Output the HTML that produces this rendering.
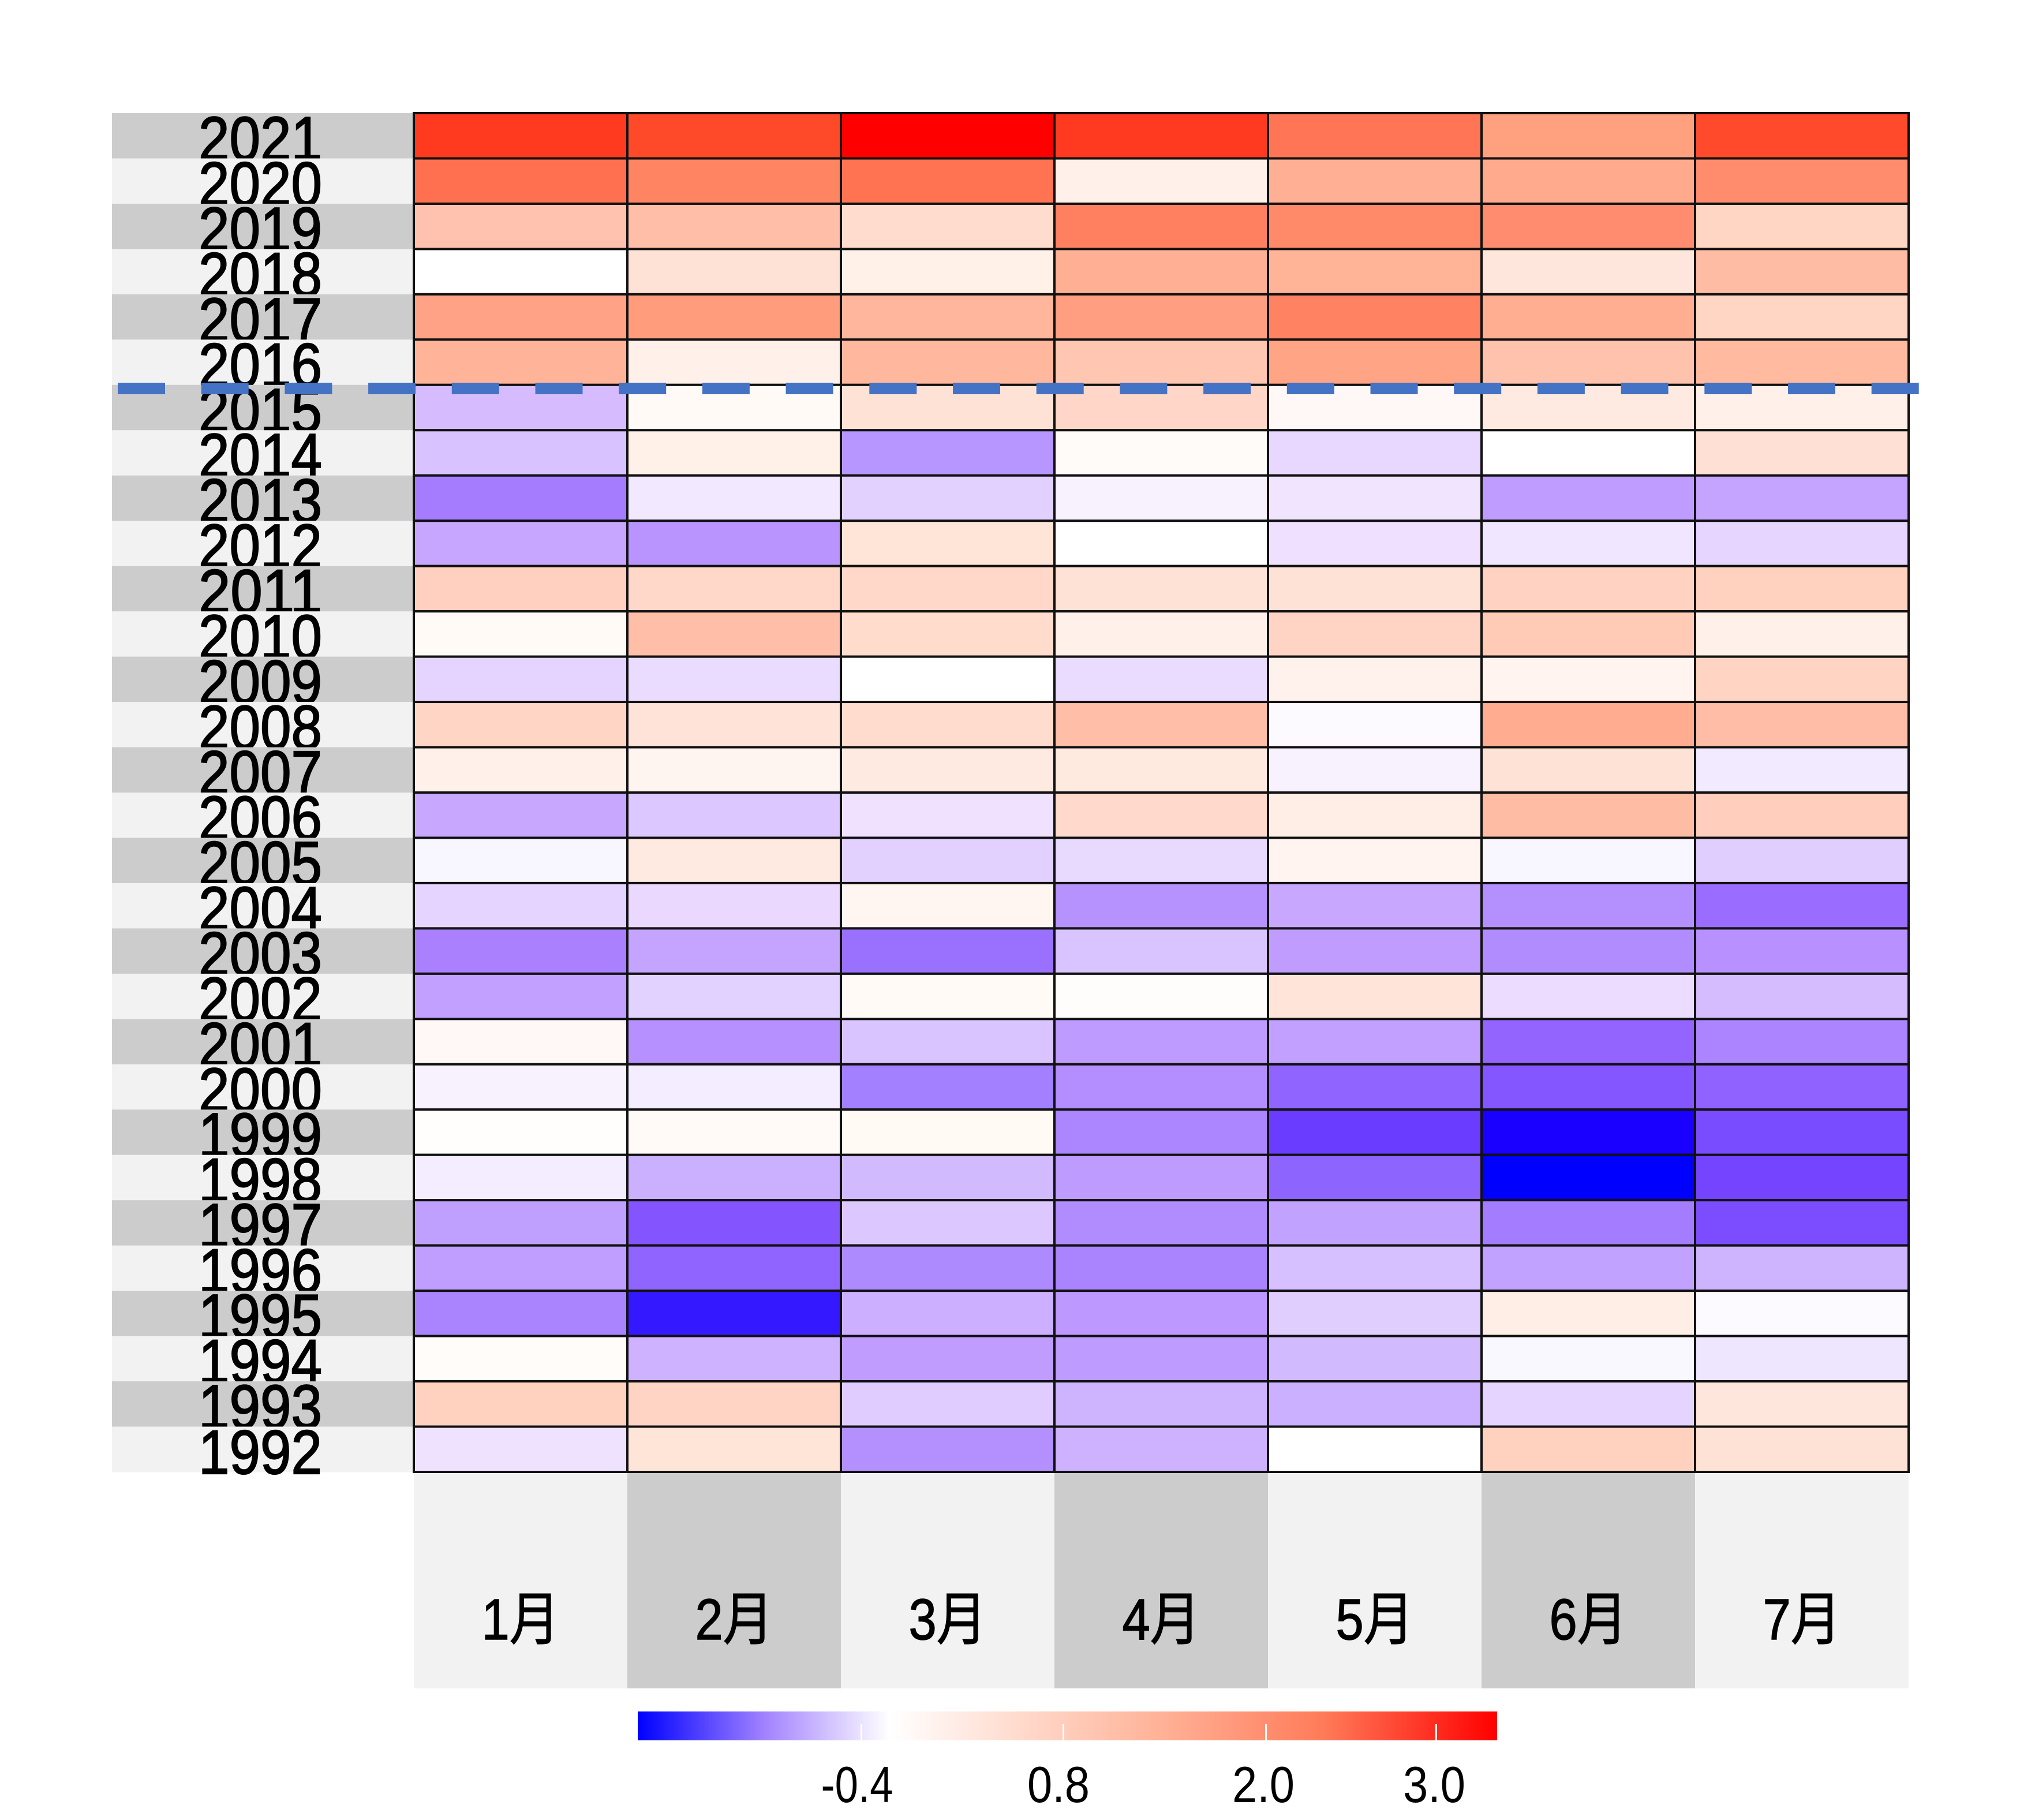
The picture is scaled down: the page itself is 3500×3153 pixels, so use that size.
<!DOCTYPE html>
<html><head><meta charset="utf-8"><style>html,body{margin:0;padding:0;background:#fff}svg{display:block}</style></head>
<body>
<svg id="s" width="3500" height="3153" xmlns="http://www.w3.org/2000/svg" font-family="Liberation Sans, Noto Sans CJK SC, sans-serif">
<defs><linearGradient id="g" x1="0" x2="1" y1="0" y2="0">
<stop offset="0" stop-color="#0000ff"/><stop offset="0.15" stop-color="#a484ff"/><stop offset="0.293" stop-color="#ffffff"/><stop offset="0.6" stop-color="#ffb49a"/><stop offset="0.8" stop-color="#ff7a58"/><stop offset="1" stop-color="#ff0000"/></linearGradient></defs>
<rect width="3500" height="3153" fill="#fff"/>
<g id="cells"></g>
</svg>
<script>
const C=[
"ff3a1e ff4a2a ff0000 ff3a20 ff7556 ffa07e ff4a2c",
"ff7050 ff8562 ff7352 fff0ea ffb094 ffaa8c ff8c6c",
"ffc2ae ffbea8 ffdcce ff8060 ff8a6a ff8c6e ffd6c4",
"ffffff ffe2d6 fff0e8 ffb094 ffb498 ffe6dc ffbca4",
"ffa286 ff9c7c ffb69c ff9e80 ff8262 ffae92 ffd6c4",
"ffb49a fff0ea ffb89e ffc6b2 ffa484 ffc2ac ffbaa0",
"d6bcff fffaf6 ffe2d6 ffd6c8 fff8f6 ffeae2 fff0ea",
"d8c2ff fff0e8 b896ff fffbf8 e8d8ff ffffff ffe0d4",
"a67cff f2e8ff e2d0ff f8f2ff f0e4ff bf9cff c4a4ff",
"c6a6ff b994ff ffe4d8 ffffff f0e0ff f0e6ff e6d6ff",
"ffd0c0 ffd8ca ffd8ca ffe2d6 ffe2d6 ffd2c2 ffd2c0",
"fffaf6 ffbea8 ffdccc fff0ea ffd4c4 ffcab6 fff0ea",
"e4d4ff eadcff ffffff eadcff fff2ec fff4f0 ffd4c2",
"ffd6c6 ffe2d8 ffdcce ffbea8 fcfaff ffac90 ffbca6",
"fff0ea fff5f0 ffeae2 ffeae0 f8f2ff ffe2d6 f2eaff",
"c8a8ff dcc8ff f0e2ff ffdacc ffeee6 ffbca4 ffcebc",
"f8f6ff ffeae2 e2d0ff e8daff fff4f0 f8f6ff e0ceff",
"e4d4ff ead8ff fff6f2 b692ff c8a8ff b490ff 9a6cff",
"aa80ff c4a4ff 9a70ff dac4ff c09cff b08cff b890ff",
"c2a0ff e2d2ff fffaf6 fffdfc ffe4da ecdcff d4bcff",
"fff8f6 b690ff dac4ff be9cff c2a0ff 9464ff ac84ff",
"f8f2ff f4ecff a280ff b48eff 9064ff 8456ff 9062ff",
"fffefc fffaf8 fffaf4 ac86ff 6a3cff 1a00ff 7a4cff",
"f4ecff cab0ff d2baff be9cff 8e64ff 0000ff 7444ff",
"c0a0ff 8454ff dcc8ff b08cff c2a2ff a47cff 7c4cff",
"c09eff 9064ff ae8aff aa84ff d6c0ff c2a2ff ceb4ff",
"aa84ff 3418ff ccb0ff bc98ff e0ceff ffeee6 fcfaff",
"fffcfa ceb2ff c09cff be9cff d2baff faf8ff eee6ff",
"ffd2c0 ffd4c4 e0ccff ceb4ff cab0ff e4d4ff ffe6dc",
"efe2ff ffe4d8 b490ff ceb2ff ffffff ffd2c0 ffe2d6"];
const X0=717,CW=(3307-717)/7,Y0=196,RH=(2550-196)/30;
let h='';
for(let i=0;i<30;i++){const y=Y0+i*RH;
h+=`<rect x="194" y="${y}" width="523" height="${RH+0.5}" fill="${i%2?'#f2f2f2':'#cccccc'}"/>`;
const row=C[i].split(' ');
for(let j=0;j<7;j++)h+=`<rect x="${X0+j*CW}" y="${y}" width="${CW}" height="${RH}" fill="#${row[j]}" stroke="#111" stroke-width="4"/>`;
const by=y+RH+3;
h+=`<text transform="translate(451,${by}) scale(1,1.08)" x="0" y="0" font-size="100" text-anchor="middle" stroke="#000" stroke-width="2" textLength="214" lengthAdjust="spacingAndGlyphs">${2021-i}</text>`;}
for(let j=0;j<7;j++){const x=X0+j*CW;
h+=`<rect x="${x}" y="2552" width="${CW}" height="373" fill="${j%2?'#cccccc':'#f2f2f2'}"/>`;
h+=`<text x="${x+CW/2}" y="2840" font-size="100" text-anchor="middle" stroke="#000" stroke-width="1.5" textLength="135" lengthAdjust="spacingAndGlyphs">${j+1}月</text>`;}
for(let k=0;k<22;k++)h+=`<rect x="${204+k*144.7}" y="663" width="82" height="20" fill="#4472c4"/>`;
h+=`<rect x="1105" y="2965" width="1489" height="50" fill="url(#g)"/>`;
[[1493,'-0.4',1485,125],[1843,'0.8',1834,108],[2194,'2.0',2189,108],[2489,'3.0',2485,108]].forEach(t=>{
h+=`<rect x="${t[0]-2}" y="2987" width="3" height="28" fill="#fff"/>`;
h+=`<text x="${t[2]}" y="3122" font-size="88" text-anchor="middle" textLength="${t[3]}" lengthAdjust="spacingAndGlyphs">${t[1]}</text>`;});
document.getElementById('cells').innerHTML=h;
</script>
</body></html>
